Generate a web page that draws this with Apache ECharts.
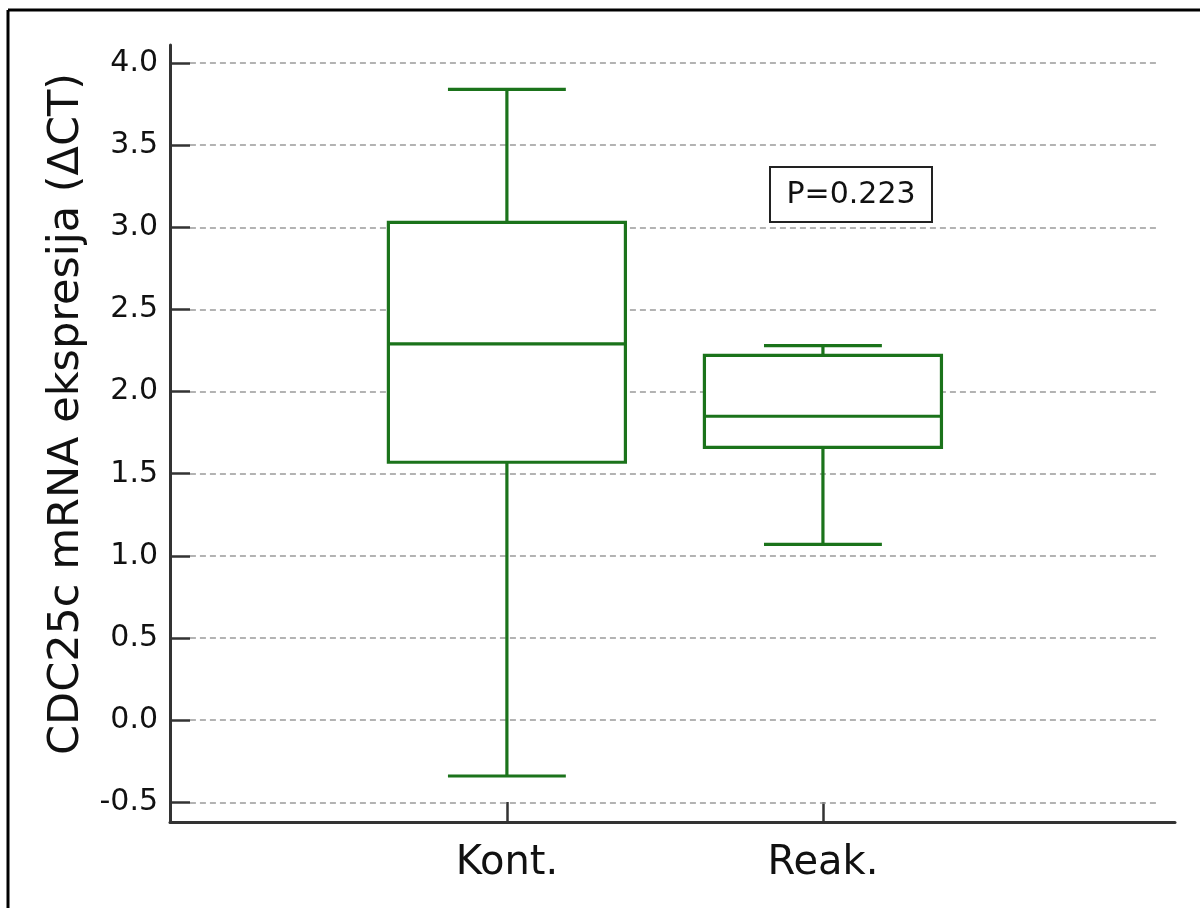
<!DOCTYPE html>
<html>
<head>
<meta charset="utf-8">
<script src="https://cdn.jsdelivr.net/npm/echarts@6/dist/echarts.min.js"></script>
<style>
html,body{margin:0;padding:0;background:#fff;}
#chart{width:1200px;height:908px;}
</style>
</head>
<body>
<div id="chart"></div>
<script>
// ---- data ----
const categories = ['Kont.', 'Reak.'];
const xPositions = [1, 2];
const lowerWhisker = [-0.34, 1.07];
const q1 = [1.57, 1.66];
const median = [2.29, 1.85];
const q3 = [3.03, 2.22];
const upperWhisker = [3.84, 2.28];
const yTicks = [-0.5, 0, 0.5, 1, 1.5, 2, 2.5, 3, 3.5, 4];
const yTitle = 'CDC25c mRNA ekspresija (\u0394CT)';
const pText = 'P=0.223';

const GREEN = '#1b731b';
const BOX_W = 0.75;
const CAP_W = 0.373;
const X_MIN = -0.066, X_MAX = 3.114;
const GRID_X0 = -0.003, GRID_X1 = 3.066;

const chart = echarts.init(document.getElementById('chart'));

const boxData = xPositions.map((x, i) => [x, lowerWhisker[i], q1[i], median[i], q3[i], upperWhisker[i]]);

function renderBox(params, api) {
  const x = api.value(0);
  const lo = api.coord([x, api.value(1)]);
  const pq1 = api.coord([x, api.value(2)]);
  const pmed = api.coord([x, api.value(3)]);
  const pq3 = api.coord([x, api.value(4)]);
  const hi = api.coord([x, api.value(5)]);
  const bw = api.size([BOX_W, 0])[0];
  const cw = api.size([CAP_W, 0])[0];
  const cx = pmed[0];
  const st = { stroke: GREEN, lineWidth: 3.2, fill: null };
  return {
    type: 'group',
    children: [
      { type: 'line', shape: { x1: cx, y1: pq3[1], x2: cx, y2: hi[1] }, style: st },
      { type: 'line', shape: { x1: cx, y1: pq1[1], x2: cx, y2: lo[1] }, style: st },
      { type: 'line', shape: { x1: cx - cw / 2, y1: hi[1], x2: cx + cw / 2, y2: hi[1] }, style: st },
      { type: 'line', shape: { x1: cx - cw / 2, y1: lo[1], x2: cx + cw / 2, y2: lo[1] }, style: st },
      { type: 'rect', shape: { x: cx - bw / 2, y: pq3[1], width: bw, height: pq1[1] - pq3[1] },
        style: { stroke: GREEN, lineWidth: 3.2, fill: '#fff' } },
      { type: 'line', shape: { x1: cx - bw / 2, y1: pmed[1], x2: cx + bw / 2, y2: pmed[1] }, style: st }
    ]
  };
}

const option = {
  animation: false,
  backgroundColor: '#fff',
  grid: { left: 170, top: 45, right: 25, bottom: 86, containLabel: false },
  xAxis: {
    type: 'value',
    min: X_MIN,
    max: X_MAX,
    axisLine: { show: true, onZero: false, lineStyle: { color: '#333', width: 3 } },
    axisTick: { show: true, inside: true, length: 20, customValues: xPositions, lineStyle: { color: '#333', width: 2.5 } },
    axisLabel: {
      show: true,
      customValues: xPositions,
      formatter: v => categories[xPositions.indexOf(v)] || '',
      margin: 22,
      fontFamily: 'DejaVu Sans',
      fontSize: 40,
      color: '#111'
    },
    splitLine: { show: false }
  },
  yAxis: {
    type: 'value',
    min: -0.62,
    max: 4.11,
    z: 4,
    axisLine: { show: true, onZero: false, lineStyle: { color: '#333', width: 3 } },
    axisTick: { show: true, inside: true, length: 20, customValues: yTicks, lineStyle: { color: '#333', width: 2.5 } },
    axisLabel: {
      show: true,
      customValues: yTicks,
      formatter: v => Number(v).toFixed(1),
      margin: 12,
      fontFamily: 'DejaVu Sans',
      fontSize: 30,
      color: '#111'
    },
    splitLine: { show: false }
  },
  series: [
    {
      type: 'custom',
      z: 3,
      renderItem: renderBox,
      encode: { x: 0, y: [1, 2, 3, 4, 5] },
      data: boxData,
      markLine: {
        silent: true,
        z: 1,
        symbol: ['none', 'none'],
        label: { show: false },
        emphasis: { disabled: true },
        lineStyle: { color: '#9a9a9a', type: [6, 4], width: 1.6 },
        data: yTicks.map(v => [{ coord: [GRID_X0, v] }, { coord: [GRID_X1, v] }])
      }
    }
  ],
  graphic: [
    { type: 'line', shape: { x1: 8, y1: 10, x2: 8, y2: 908 }, style: { stroke: '#000', lineWidth: 3 } },
    { type: 'line', shape: { x1: 8, y1: 10, x2: 1200, y2: 10 }, style: { stroke: '#000', lineWidth: 3 } },
    {
      type: 'text',
      x: 67, y: 414,
      rotation: Math.PI / 2,
      style: {
        text: yTitle,
        font: '43px "DejaVu Sans"',
        fill: '#111',
        textAlign: 'center',
        textVerticalAlign: 'middle'
      }
    },
    {
      type: 'rect',
      shape: { x: 770, y: 167, width: 162, height: 55 },
      style: { fill: '#fff', stroke: '#222', lineWidth: 2 },
      z: 10
    },
    {
      type: 'text',
      x: 851, y: 195,
      z: 11,
      style: {
        text: pText,
        font: '30px "DejaVu Sans"',
        fill: '#111',
        textAlign: 'center',
        textVerticalAlign: 'middle'
      }
    }
  ]
};

chart.setOption(option);
</script>
</body>
</html>
